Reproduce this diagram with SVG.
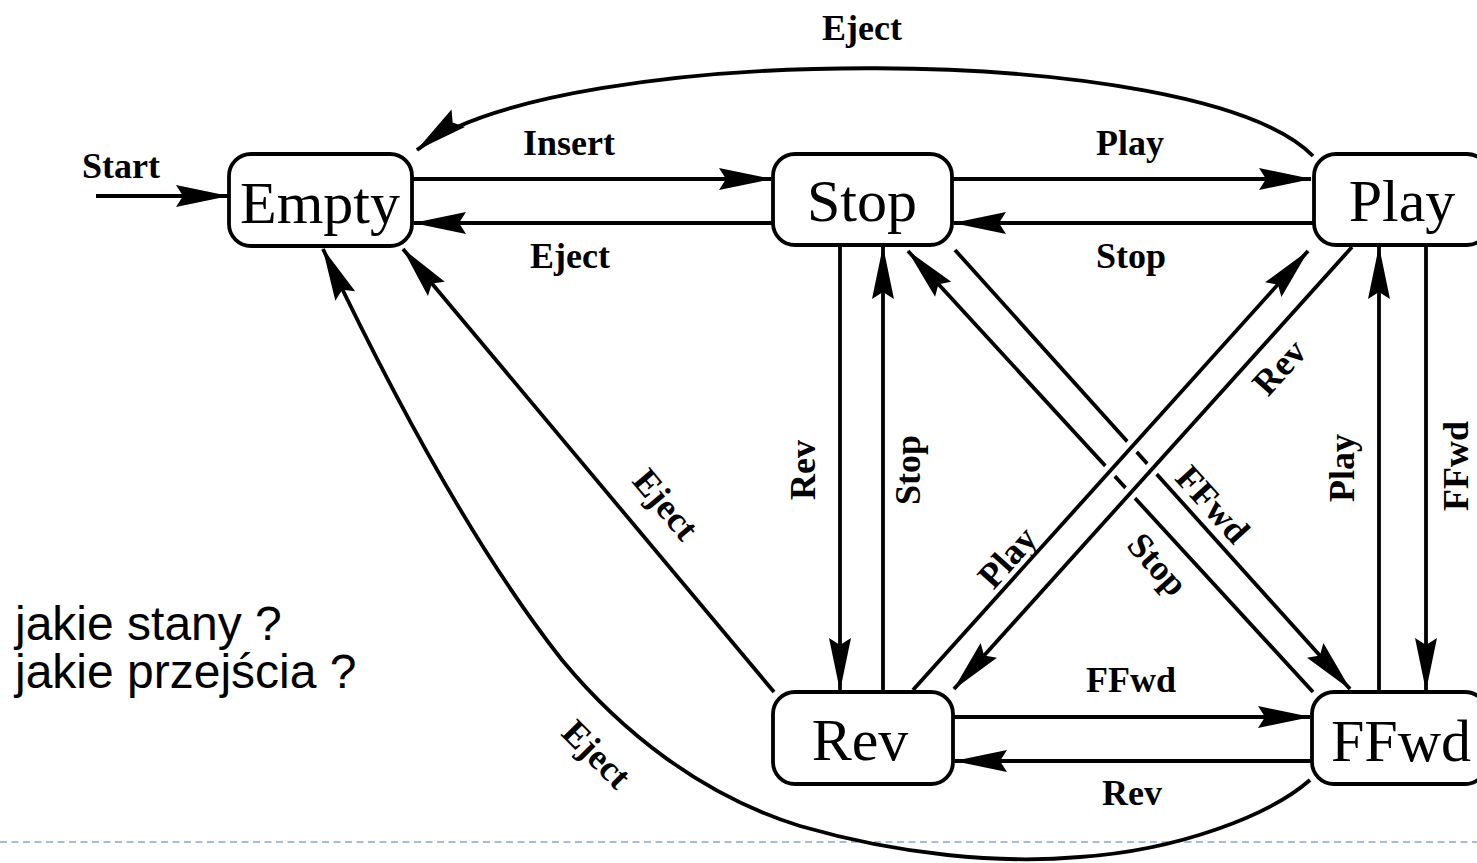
<svg xmlns="http://www.w3.org/2000/svg" width="1477" height="863" viewBox="0 0 1477 863">
<style>
.node rect{fill:#fff;stroke:#000;stroke-width:3.8}
.node text{font-family:"Liberation Serif","Times New Roman",serif;font-size:60px;fill:#000;text-anchor:middle}
.edge{fill:none;stroke:#000;stroke-width:3.8;marker-end:url(#ah)}
.halo{fill:none;stroke:#fff;stroke-width:14}
.lbl{font-family:"Liberation Serif","Times New Roman",serif;font-size:36px;font-weight:bold;fill:#000;text-anchor:middle}
.note{font-family:"Liberation Sans",Arial,sans-serif;font-size:48px;fill:#000}
</style>
<defs>
<marker id="ah" markerUnits="userSpaceOnUse" viewBox="-56 -13 58 26" markerWidth="58" markerHeight="26" refX="0" refY="0" orient="auto">
<path d="M1,0 L-52,-11 L-45,0 L-52,11 Z" fill="#000"/>
</marker>
</defs>
<rect width="1477" height="863" fill="#fff"/>
<line x1="0" y1="842" x2="1477" y2="842" stroke="#a7bcd6" stroke-width="2" stroke-dasharray="7 4.5"/>
<g id="connectors">
<path class="edge" d="M96,196 L228,196"/>
<path class="edge" d="M412,179 L771,179"/>
<path class="edge" d="M773,223 L414,223"/>
<path class="edge" d="M952,179 L1311,179"/>
<path class="edge" d="M1314,223 L954,223"/>
<path class="edge" d="M1313,156 C1200,40 560,40 417,150"/>
<path class="edge" d="M774,692 L403,249"/>
<path class="edge" d="M1310,780 C1270,815 1180,850 1080,857 C1000,864 900,855 800,826 C700,795 620,730 562,660 C485,562 404,420 323,249"/>
<path class="edge" d="M840,246 L840,690"/>
<path class="edge" d="M883,692 L883,247"/>
<path class="edge" d="M1426,246 L1426,690"/>
<path class="edge" d="M1379,692 L1379,247"/>
<path class="edge" d="M953,717 L1310,717"/>
<path class="edge" d="M1312,761 L955,761"/>
<path class="edge" d="M955,250 L1350,689"/>
<path class="edge" d="M1313,692 L908,251"/>
<path class="halo" d="M1192,380 L1030,560"/>
<path class="halo" d="M1232,380 L1070,560"/>
<path class="edge" d="M913,690 L1308,251"/>
<path class="edge" d="M1352,247 L954,689"/>
</g>
<g id="labels">
<text class="lbl" x="82" y="178" style="text-anchor:start">Start</text>
<text class="lbl" x="862" y="40">Eject</text>
<text class="lbl" x="569" y="155">Insert</text>
<text class="lbl" x="570" y="268">Eject</text>
<text class="lbl" x="1130" y="155">Play</text>
<text class="lbl" x="1131" y="268">Stop</text>
<text class="lbl" x="1131" y="692">FFwd</text>
<text class="lbl" x="1132" y="805">Rev</text>
<text class="lbl" transform="translate(815,470) rotate(-90)">Rev</text>
<text class="lbl" transform="translate(920,470) rotate(-90)">Stop</text>
<text class="lbl" transform="translate(1354,468) rotate(-90)">Play</text>
<text class="lbl" transform="translate(1468,466) rotate(-90)">FFwd</text>
<text class="lbl" transform="translate(665,505) rotate(50)" y="11">Eject</text>
<text class="lbl" transform="translate(596,755) rotate(45)" y="11">Eject</text>
<text class="lbl" transform="translate(1008,558) rotate(-48)" y="11">Play</text>
<text class="lbl" transform="translate(1280,368) rotate(-48)" y="11">Rev</text>
<text class="lbl" transform="translate(1212,505) rotate(48)" y="11">FFwd</text>
<text class="lbl" transform="translate(1157,565) rotate(48)" y="11">Stop</text>
</g>
<g id="node-empty" class="node"><rect x="229" y="154" width="183" height="92" rx="22"/><text x="320" y="223">Empty</text></g>
<g id="node-stop" class="node"><rect x="773" y="154" width="179" height="91" rx="22"/><text x="862" y="221">Stop</text></g>
<g id="node-play" class="node"><rect x="1314" y="154" width="175" height="91" rx="22"/><text x="1402" y="221">Play</text></g>
<g id="node-rev" class="node"><rect x="773" y="692" width="180" height="92" rx="22"/><text x="860" y="760">Rev</text></g>
<g id="node-ffwd" class="node"><rect x="1312" y="692" width="175" height="92" rx="22"/><text x="1401" y="761">FFwd</text></g>
<g id="notes">
<text class="note" x="15" y="640">jakie stany ?</text>
<text class="note" x="15" y="688">jakie przejścia ?</text>
</g>
</svg>
